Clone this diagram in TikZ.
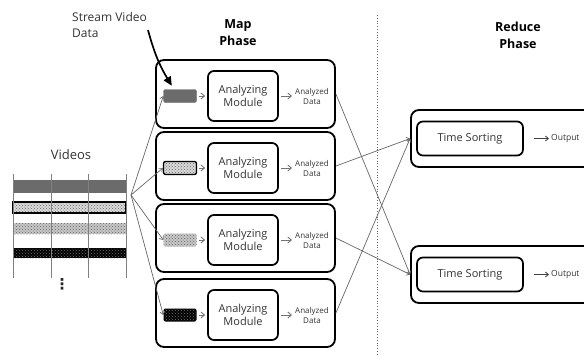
\documentclass[tikz,border=0pt]{standalone}
\usepackage{fontspec}
\setmainfont{Open Sans}
\newfontfamily\symfont{DejaVu Sans}
\usetikzlibrary{arrows.meta,positioning,calc,patterns}
\tikzset{
  mapbox/.style ={draw,rounded corners=8pt,line width=1.8pt,minimum width=179pt,minimum height=68pt,inner sep=0pt},
  modbox/.style ={draw,rounded corners=6pt,line width=1.7pt,minimum width=70pt,minimum height=50pt,
                  inner sep=0pt,align=center,text=black!80,font=\fontsize{11}{13}\selectfont},
  redbox/.style ={draw,rounded corners=8pt,line width=1.8pt,minimum width=200pt,minimum height=57pt,inner sep=0pt},
  sortbox/.style={draw,rounded corners=6pt,line width=1.7pt,minimum width=106pt,minimum height=34pt,
                  inner sep=0pt,text=black!80,font=\fontsize{11}{13}\selectfont},
  datatxt/.style={align=center,inner sep=1pt,text=black!80,font=\fontsize{8}{10}\selectfont},
  outtxt/.style ={anchor=west,inner sep=1pt,text=black!80,font=\fontsize{8.5}{10}\selectfont},
  phase/.style  ={align=center,font=\bfseries\fontsize{12.5}{17}\selectfont},
  blk/.style    ={rounded corners=2pt,minimum width=33pt,minimum height=13pt,inner sep=0pt},
  s1/.style     ={fill=black!58,draw=black!58},
  s2/.style     ={draw=black,line width=1.3pt,preaction={fill=black!15},pattern=crosshatch dots,pattern color=black!60},
  s3/.style     ={preaction={fill=black!22},pattern=crosshatch dots,pattern color=black!62},
  s4/.style     ={preaction={fill=black},pattern=crosshatch dots,pattern color=black!55},
  flow/.style   ={black!55,line width=0.9pt,-{Straight Barb[length=3.5pt,width=6pt]},shorten <=2pt,shorten >=2pt},
  feed/.style   ={black!60,line width=0.7pt,-{Straight Barb[length=3pt,width=5pt]}},
  outarrow/.style={black!75,line width=0.8pt,-{Straight Barb[length=3pt,width=5pt]},shorten <=10pt,shorten >=1pt},
  pointer/.style={line width=1.7pt,-{Triangle[length=9pt,width=8pt]}},
  divider/.style={black!60,line width=0.8pt,dotted},
}

\begin{document}
\begin{tikzpicture}[x=1pt,y=-1pt]
  \useasboundingbox (0,0) rectangle (584,354);
  \clip (0,0) rectangle (584,354);

  % input videos
  \node[font=\fontsize{13}{15}\selectfont,text=black!80] (vidlbl) at (71,155) {Videos};
  \fill[s1] (13,180) rectangle (126,192);
  \path[s2] (13,202) rectangle (126,213);
  \path[s3] (13,223) rectangle (126,234);
  \path[s4] (13,248) rectangle (126,258);
  \foreach \x in {13,51,88,126}
     \draw[black!50,line width=1pt] (\x,174) -- (\x,278);
  \node[font=\symfont\bfseries\fontsize{15}{16}\selectfont,text=black!85,inner sep=0pt] (vdots) at (62,284) {⋮};
  \coordinate (fan) at (131,195);

  % map phase
  \node[phase] (maptitle) at (238,33) {Map\\Phase};
  \foreach \i/\y/\s in {1/96/s1,2/168/s2,3/240/s3,4/315/s4}{
     \node[mapbox] (map\i) at (245.5,\y-2) {};
     \node[modbox] (mod\i) at (243,\y) {Analyzing\\Module};
     \node[blk,\s] (blk\i) at (180,\y) {};
     \node[datatxt] (dat\i) at (312,\y) {Analyzed\\Data};
     \draw[flow] (blk\i) -- (mod\i);
     \draw[flow] (mod\i) -- (dat\i);
     \draw[feed] (fan) -- (blk\i.west);
  }

  % label for the stream
  \node[anchor=north west,align=left,inner sep=0pt,text=black!80,font=\fontsize{12}{16}\selectfont]
     (svd) at (72,12) {Stream Video\\Data};
  \coordinate (svdfoot) at (148,30);
  \draw[pointer] (svdfoot) to[bend right=8] ($(blk1.north west)+(8.5,-3.5)$);

  % divider
  \coordinate (divtop) at (377,15);
  \coordinate (divbot) at (377,354);
  \draw[divider] (divtop) -- (divbot);

  % reduce phase
  \node[phase] (redtitle) at (518,35) {Reduce\\Phase};
  \foreach \j/\y in {1/138.5,2/274.5}{
     \node[redbox] (red\j) at (511,\y) {};
     \node[sortbox] (sort\j) at (470,\y) {Time Sorting};
     \node[outtxt] (out\j) at (550,\y) {Output};
     \draw[outarrow] (sort\j) -- (out\j);
  }
  \foreach \i/\j in {1/2,2/1,3/2,4/1}
     \draw[feed] (map\i.east) -- (red\j.west);
\end{tikzpicture}
\end{document}
